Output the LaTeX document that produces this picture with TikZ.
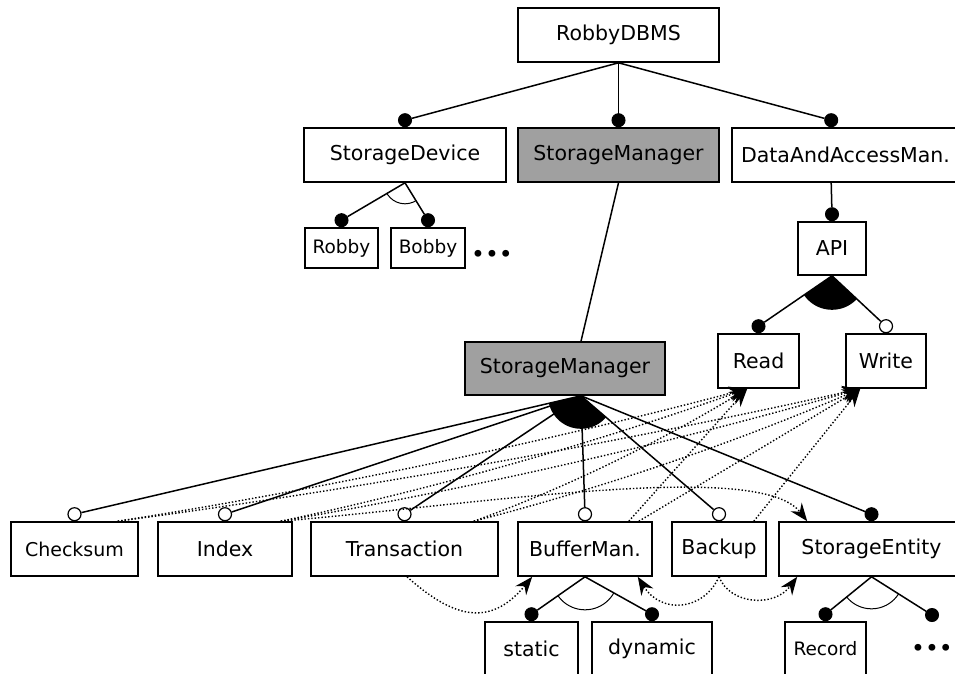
\documentclass[tikz,border=0pt]{standalone}
\usepackage{fontspec}
\setmainfont{DejaVu Sans}
\usetikzlibrary{calc,arrows.meta}
\definecolor{smgray}{RGB}{160,160,160}
% filled sector of an or-group between two child edges
\newcommand{\orgroup}[4]{%
  \begin{scope}
    \clip (#1) -- ($(#1)!4!(#2)$) -- ($(#1)!4!(#3)$) -- cycle;
    \fill (#1) circle[radius=#4];
  \end{scope}}
% open arc of an alternative group
\newcommand{\altgroup}[4]{%
  \begin{scope}
    \clip (#1) -- ($(#1)!4!(#2)$) -- ($(#1)!4!(#3)$) -- cycle;
    \draw[line width=1pt] (#1) circle[radius=#4];
  \end{scope}}
% long requires edge, sagging slightly below its chord
\newcommand{\reqline}[2]{%
  \draw[req] (#1) .. controls ($(#1)!0.33!(#2)+(0,11)$) and ($(#1)!0.67!(#2)+(0,11)$) .. (#2);}
\begin{document}
\begin{tikzpicture}[x=1pt,y=-1pt,
  box/.style={draw, line width=1.6pt, fill=white, rectangle, inner sep=0pt,
    font=\fontsize{20.5}{24}\selectfont},
  small/.style={font=\fontsize{18.5}{22}\selectfont},
  wh/.style 2 args={minimum width=#1pt, minimum height=#2pt},
  mand/.style={circle, fill=black, draw=black, line width=1pt, minimum size=13pt, inner sep=0pt},
  opt/.style={circle, draw=black, line width=1.2pt, minimum size=13pt, inner sep=0pt},
  con/.style={line width=1.5pt},
  tip/.tip={Stealth[length=18pt,width=14pt,inset=6pt]},
  req/.style={line width=1.4pt, dotted, -tip},
  etc/.style={inner sep=0pt, font=\fontsize{23.5}{24}\selectfont}]
\useasboundingbox (0,0) rectangle (955,673);
\clip (0,0) rectangle (955,673);

% feature boxes
\node[box, wh={201}{54}] (root) at (618.5,35) {RobbyDBMS};
\node[box, wh={202}{54}] (sdev) at (405,155) {StorageDevice};
\node[box, fill=smgray, wh={201}{54}] (smtop) at (618.5,155) {StorageManager};
\node[box, wh={227}{54}] (dam) at (845.5,155) {DataAndAccessMan.};
\node[box, small, wh={73}{40}] (robby) at (341.5,248) {Robby};
\node[box, small, wh={74}{40}] (bobby) at (428,248) {Bobby};
\node[etc] (more1) at (492,256) {•••};
\node[box, wh={68}{53}] (api) at (832,248.5) {API};
\node[box, wh={81}{54}] (read) at (758.5,361) {Read};
\node[box, wh={80}{54}] (write) at (886,361) {Write};
\node[box, fill=smgray, wh={200}{53}] (smmid) at (565,368.5) {StorageManager};
\node[box, font=\fontsize{19}{22}\selectfont, wh={127}{54}] (chk) at (74.5,549) {Checksum};
\node[box, wh={134}{54}] (idx) at (225,549) {Index};
\node[box, wh={187}{54}] (trn) at (404.5,549) {Transaction};
\node[box, wh={134}{54}] (buf) at (585,549) {BufferMan.};
\node[box, wh={94}{54}] (bak) at (719,549) {Backup};
\node[box, wh={185}{54}] (sent) at (871.5,549) {StorageEntity};
\node[box, wh={93}{53}] (stat) at (531.5,648.5) {static};
\node[box, wh={120}{53}] (dyn) at (652,648.5) {dynamic};
\node[box, small, wh={81}{53}] (rec) at (825.5,648.5) {Record};
\node[etc] (more2) at (932,650) {•••};

% edge anchors that sit off the box centres
\coordinate (damT) at ($(dam.north west)+(100,0)$);
\coordinate (damS) at ($(dam.south west)+(100,0)$);
\coordinate (smT) at ($(smmid.north)+(16,0)$);
\coordinate (smB) at ($(smmid.south)+(16,0)$);

% mandatory / optional markers
\node[mand] (c-sdev)  at ($(sdev.north)+(0,-7)$) {};
\node[mand] (c-smtop) at ($(smtop.north)+(0,-7)$) {};
\node[mand] (c-dam)   at ($(damT)+(0,-7)$) {};
\node[mand] (c-robby) at ($(robby.north)+(0,-7)$) {};
\node[mand] (c-bobby) at ($(bobby.north)+(0,-7)$) {};
\node[mand] (c-api)   at ($(api.north)+(0,-7)$) {};
\node[mand] (c-read)  at ($(read.north)+(0,-7)$) {};
\node[opt]  (c-write) at ($(write.north)+(0,-7)$) {};
\node[opt]  (c-chk)   at ($(chk.north)+(0,-7)$) {};
\node[opt]  (c-idx)   at ($(idx.north)+(0,-7)$) {};
\node[opt]  (c-trn)   at ($(trn.north)+(0,-7)$) {};
\node[opt]  (c-buf)   at ($(buf.north)+(0,-7)$) {};
\node[opt]  (c-bak)   at ($(bak.north)+(0,-7)$) {};
\node[mand] (c-sent)  at ($(sent.north)+(0,-7)$) {};
\node[mand] (c-stat)  at ($(stat.north)+(0,-7)$) {};
\node[mand] (c-dyn)   at ($(dyn.north)+(0,-7)$) {};
\node[mand] (c-rec)   at ($(rec.north)+(0,-7)$) {};
\node[mand] (c-etc)   at ($(more2)+(0,-35)$) {};

% tree edges
\draw[con] (root.south) -- (c-sdev);
\draw[con] (root.south) -- (c-smtop);
\draw[con] (root.south) -- (c-dam);
\draw[con] (sdev.south) -- (c-robby);
\draw[con] (sdev.south) -- (c-bobby);
\altgroup{sdev.south}{c-robby}{c-bobby}{21}
\draw[con] (smtop.south) -- (smT);
\draw[con] (damS) -- (c-api);
\draw[con] (api.south) -- (c-read);
\draw[con] (api.south) -- (c-write);
\orgroup{api.south}{c-read}{c-write}{34}
\draw[con] (smB) -- (c-chk);
\draw[con] (smB) -- (c-idx);
\draw[con] (smB) -- (c-trn);
\draw[con] (smB) -- (c-buf);
\draw[con] (smB) -- (c-bak);
\draw[con] (smB) -- (c-sent);
\orgroup{smB}{c-chk}{c-bak}{33}
\draw[con] (buf.south) -- (c-stat);
\draw[con] (buf.south) -- (c-dyn);
\altgroup{buf.south}{c-stat}{c-dyn}{33}
\draw[con] (sent.south) -- (c-rec);
\draw[con] (sent.south) -- (c-etc);
\altgroup{sent.south}{c-rec}{c-etc}{32}

% requires constraints
\coordinate (rdT) at ($(read.south west)+(30,0)$);
\coordinate (wrT) at ($(write.south west)+(15,0)$);
\coordinate (chkR) at ($(chk.north east)+(-21,0)$);
\coordinate (idxR) at ($(idx.north east)+(-12,0)$);
\coordinate (trnR) at ($(trn.north east)+(-25,0)$);
\coordinate (bufR1) at ($(buf.north east)+(-24,0)$);
\coordinate (bufR2) at ($(buf.north east)+(-14,0)$);
\coordinate (bakR) at ($(bak.north east)+(-13,0)$);
\reqline{chkR}{rdT}
\reqline{chkR}{wrT}
\reqline{idxR}{rdT}
\reqline{idxR}{wrT}
\reqline{trnR}{rdT}
\reqline{trnR}{wrT}
\draw[req] (bufR1) -- (rdT);
\draw[req] (bufR2) -- (wrT);
\draw[req] (bakR) -- (wrT);
\draw[req] (idxR) .. controls +(200,-17) and +(-48,-62) .. ($(sent.north west)+(29,0)$);
\draw[req] ($(trn.south)+(2.5,0)$) .. controls +(45,40) and +(-43,52) .. ($(buf.south west)+(15,0)$);
\draw[req] (bak.south) .. controls +(-16,35) and +(23,37) .. ($(buf.south east)+(-15,0)$);
\draw[req] (bak.south) .. controls +(11,28) and +(-23,31) .. ($(sent.south west)+(19,0)$);
\end{tikzpicture}
\end{document}
